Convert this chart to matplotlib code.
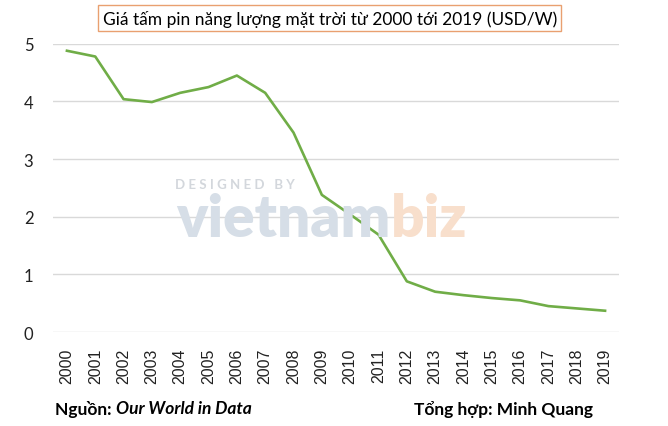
import matplotlib
matplotlib.use("Agg")
import matplotlib.pyplot as plt

plt.rcParams['font.family'] = ['Lato', 'DejaVu Sans']

# Giá tấm pin năng lượng mặt trời (USD/W)
nam = [str(y) for y in range(2000, 2020)]
gia = [4.88, 4.78, 4.04, 3.99, 4.15, 4.25, 4.45, 4.15, 3.46, 2.38,
       2.04, 1.69, 0.88, 0.70, 0.64, 0.59, 0.55, 0.45, 0.41, 0.37]
y_ticks = [0, 1, 2, 3, 4, 5]

fig = plt.figure(figsize=(6.68, 4.27), dpi=100)
ax = fig.add_axes([0.079, 0.22, 0.848, 0.675])
r = fig.canvas.get_renderer()

# watermark
fig.text(0.262, 0.567, "D E S I G N E D   B Y", fontsize=9.5, fontweight='bold',
         color='#d3d7dc', ha='left', va='center')
w1 = fig.text(0.264, 0.487, "vietnam", fontsize=42, fontweight='heavy',
              color='#d6dee7', ha='left', va='center', zorder=0)
bb = w1.get_window_extent(renderer=r)
fig.text(bb.x1 / fig.bbox.width, 0.487, "biz", fontsize=42, fontweight='heavy',
         color='#f8dfcc', ha='left', va='center', zorder=0)

x = list(range(len(nam)))
ax.plot(x, gia, color='#70AD47', linewidth=1.9, zorder=3)

ax.set_xlim(-0.5, len(nam) - 0.5)
ax.set_ylim(0, 5)
ax.set_yticks(y_ticks)
ax.set_yticklabels([str(v) for v in y_ticks], fontsize=12, color='#222222')
ax.set_xticks(x)
ax.set_xticklabels(nam, rotation=90, fontsize=11.5, color='#222222',
                   family=['Liberation Sans', 'DejaVu Sans'])
ax.tick_params(length=0)
ax.tick_params(axis='y', pad=14)
ax.tick_params(axis='x', pad=11)
ax.grid(axis='y', color='#d9d9d9', linewidth=1)
ax.set_axisbelow(True)
for s in ax.spines.values():
    s.set_visible(False)
ax.patch.set_alpha(0)

fig.text(0.4935, 0.955, "Giá tấm pin năng lượng mặt trời từ 2000 tới 2019 (USD/W)",
         fontsize=12.5, ha='center', va='center', color='black',
         bbox=dict(boxstyle='square,pad=0.25', facecolor='white',
                   edgecolor='#E9A070', linewidth=1))

# footer
t1 = fig.text(0.082, 0.042, "Nguồn: ", fontsize=12.5, fontweight='bold',
              ha='left', va='center')
bb = t1.get_window_extent(renderer=r)
fig.text(bb.x1 / fig.bbox.width, 0.042, "Our World in Data", fontsize=12.5,
         fontweight='bold', fontstyle='italic', ha='left', va='center')
fig.text(0.888, 0.042, "Tổng hợp: Minh Quang", fontsize=12.5, fontweight='bold',
         ha='right', va='center')

fig.savefig("out.png", dpi=100)
